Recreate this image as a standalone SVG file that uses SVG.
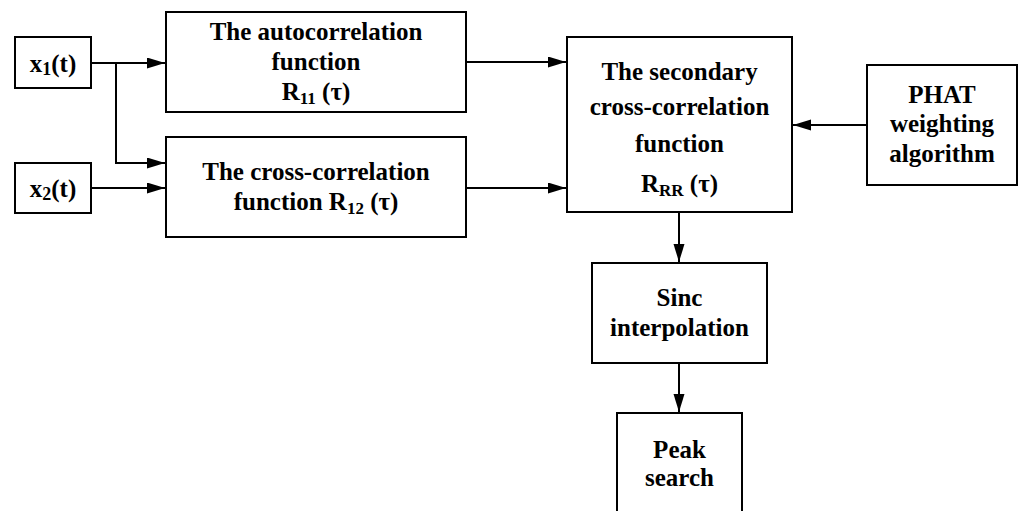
<svg xmlns="http://www.w3.org/2000/svg" width="1020" height="511" viewBox="0 0 1020 511">
<style>
.box{fill:#fff;stroke:#000;stroke-width:2}
.t{font-family:"Liberation Serif","Times New Roman",serif;font-weight:bold;font-size:25px;text-anchor:middle;fill:#000}
.sub{font-size:17px}
.c{fill:none;stroke:#000;stroke-width:2}
</style>
<defs>
<marker id="arr" markerUnits="userSpaceOnUse" markerWidth="20" markerHeight="12" refX="18" refY="5.5" orient="auto">
<path d="M0,0 L18,5.5 L0,11 Z" fill="#000"/>
</marker>
</defs>
<rect width="1020" height="511" fill="#fff"/>
<g id="connectors">
<path class="c" d="M91,63 H165" marker-end="url(#arr)"/>
<path class="c" d="M116,63 V163 H165" marker-end="url(#arr)"/>
<path class="c" d="M91,188 H165" marker-end="url(#arr)"/>
<path class="c" d="M466,62 H566" marker-end="url(#arr)"/>
<path class="c" d="M466,188 H566" marker-end="url(#arr)"/>
<path class="c" d="M867,125 H793" marker-end="url(#arr)"/>
<path class="c" d="M679,213 V262" marker-end="url(#arr)"/>
<path class="c" d="M679,363 V412" marker-end="url(#arr)"/>
</g>
<g id="x1">
<rect class="box" x="15" y="37" width="76" height="51"/>
<text class="t" x="53" y="72">x<tspan font-size="18" dy="3">1</tspan><tspan dy="-3">(t)</tspan></text>
</g>
<g id="x2">
<rect class="box" x="15" y="163" width="76" height="50"/>
<text class="t" x="53" y="197">x<tspan font-size="18" dy="3">2</tspan><tspan dy="-3">(t)</tspan></text>
</g>
<g id="autocorr">
<rect class="box" x="166" y="12" width="300" height="100"/>
<text class="t" x="316" y="40">The autocorrelation</text>
<text class="t" x="316" y="70">function</text>
<text class="t" x="316" y="100">R<tspan class="sub" dy="4">11</tspan><tspan dy="-4"> (τ)</tspan></text>
</g>
<g id="crosscorr">
<rect class="box" x="166" y="137" width="300" height="100"/>
<text class="t" x="316" y="180">The cross-correlation</text>
<text class="t" x="316" y="210">function R<tspan class="sub" dy="4">12</tspan><tspan dy="-4"> (τ)</tspan></text>
</g>
<g id="secondary">
<rect class="box" x="567" y="37" width="225" height="175"/>
<text class="t" x="679.5" y="80">The secondary</text>
<text class="t" x="679.5" y="115">cross-correlation</text>
<text class="t" x="679.5" y="152">function</text>
<text class="t" x="679.5" y="192">R<tspan class="sub" dy="4">RR</tspan><tspan dy="-4"> (τ)</tspan></text>
</g>
<g id="phat">
<rect class="box" x="867" y="65" width="150" height="120"/>
<text class="t" x="942" y="103">PHAT</text>
<text class="t" x="942" y="132">weighting</text>
<text class="t" x="942" y="162">algorithm</text>
</g>
<g id="sinc">
<rect class="box" x="592" y="263" width="175" height="100"/>
<text class="t" x="679.5" y="306">Sinc</text>
<text class="t" x="679.5" y="336">interpolation</text>
</g>
<g id="peak">
<rect class="box" x="617" y="413" width="125" height="120"/>
<text class="t" x="679.5" y="458">Peak</text>
<text class="t" x="679.5" y="486">search</text>
</g>
</svg>
